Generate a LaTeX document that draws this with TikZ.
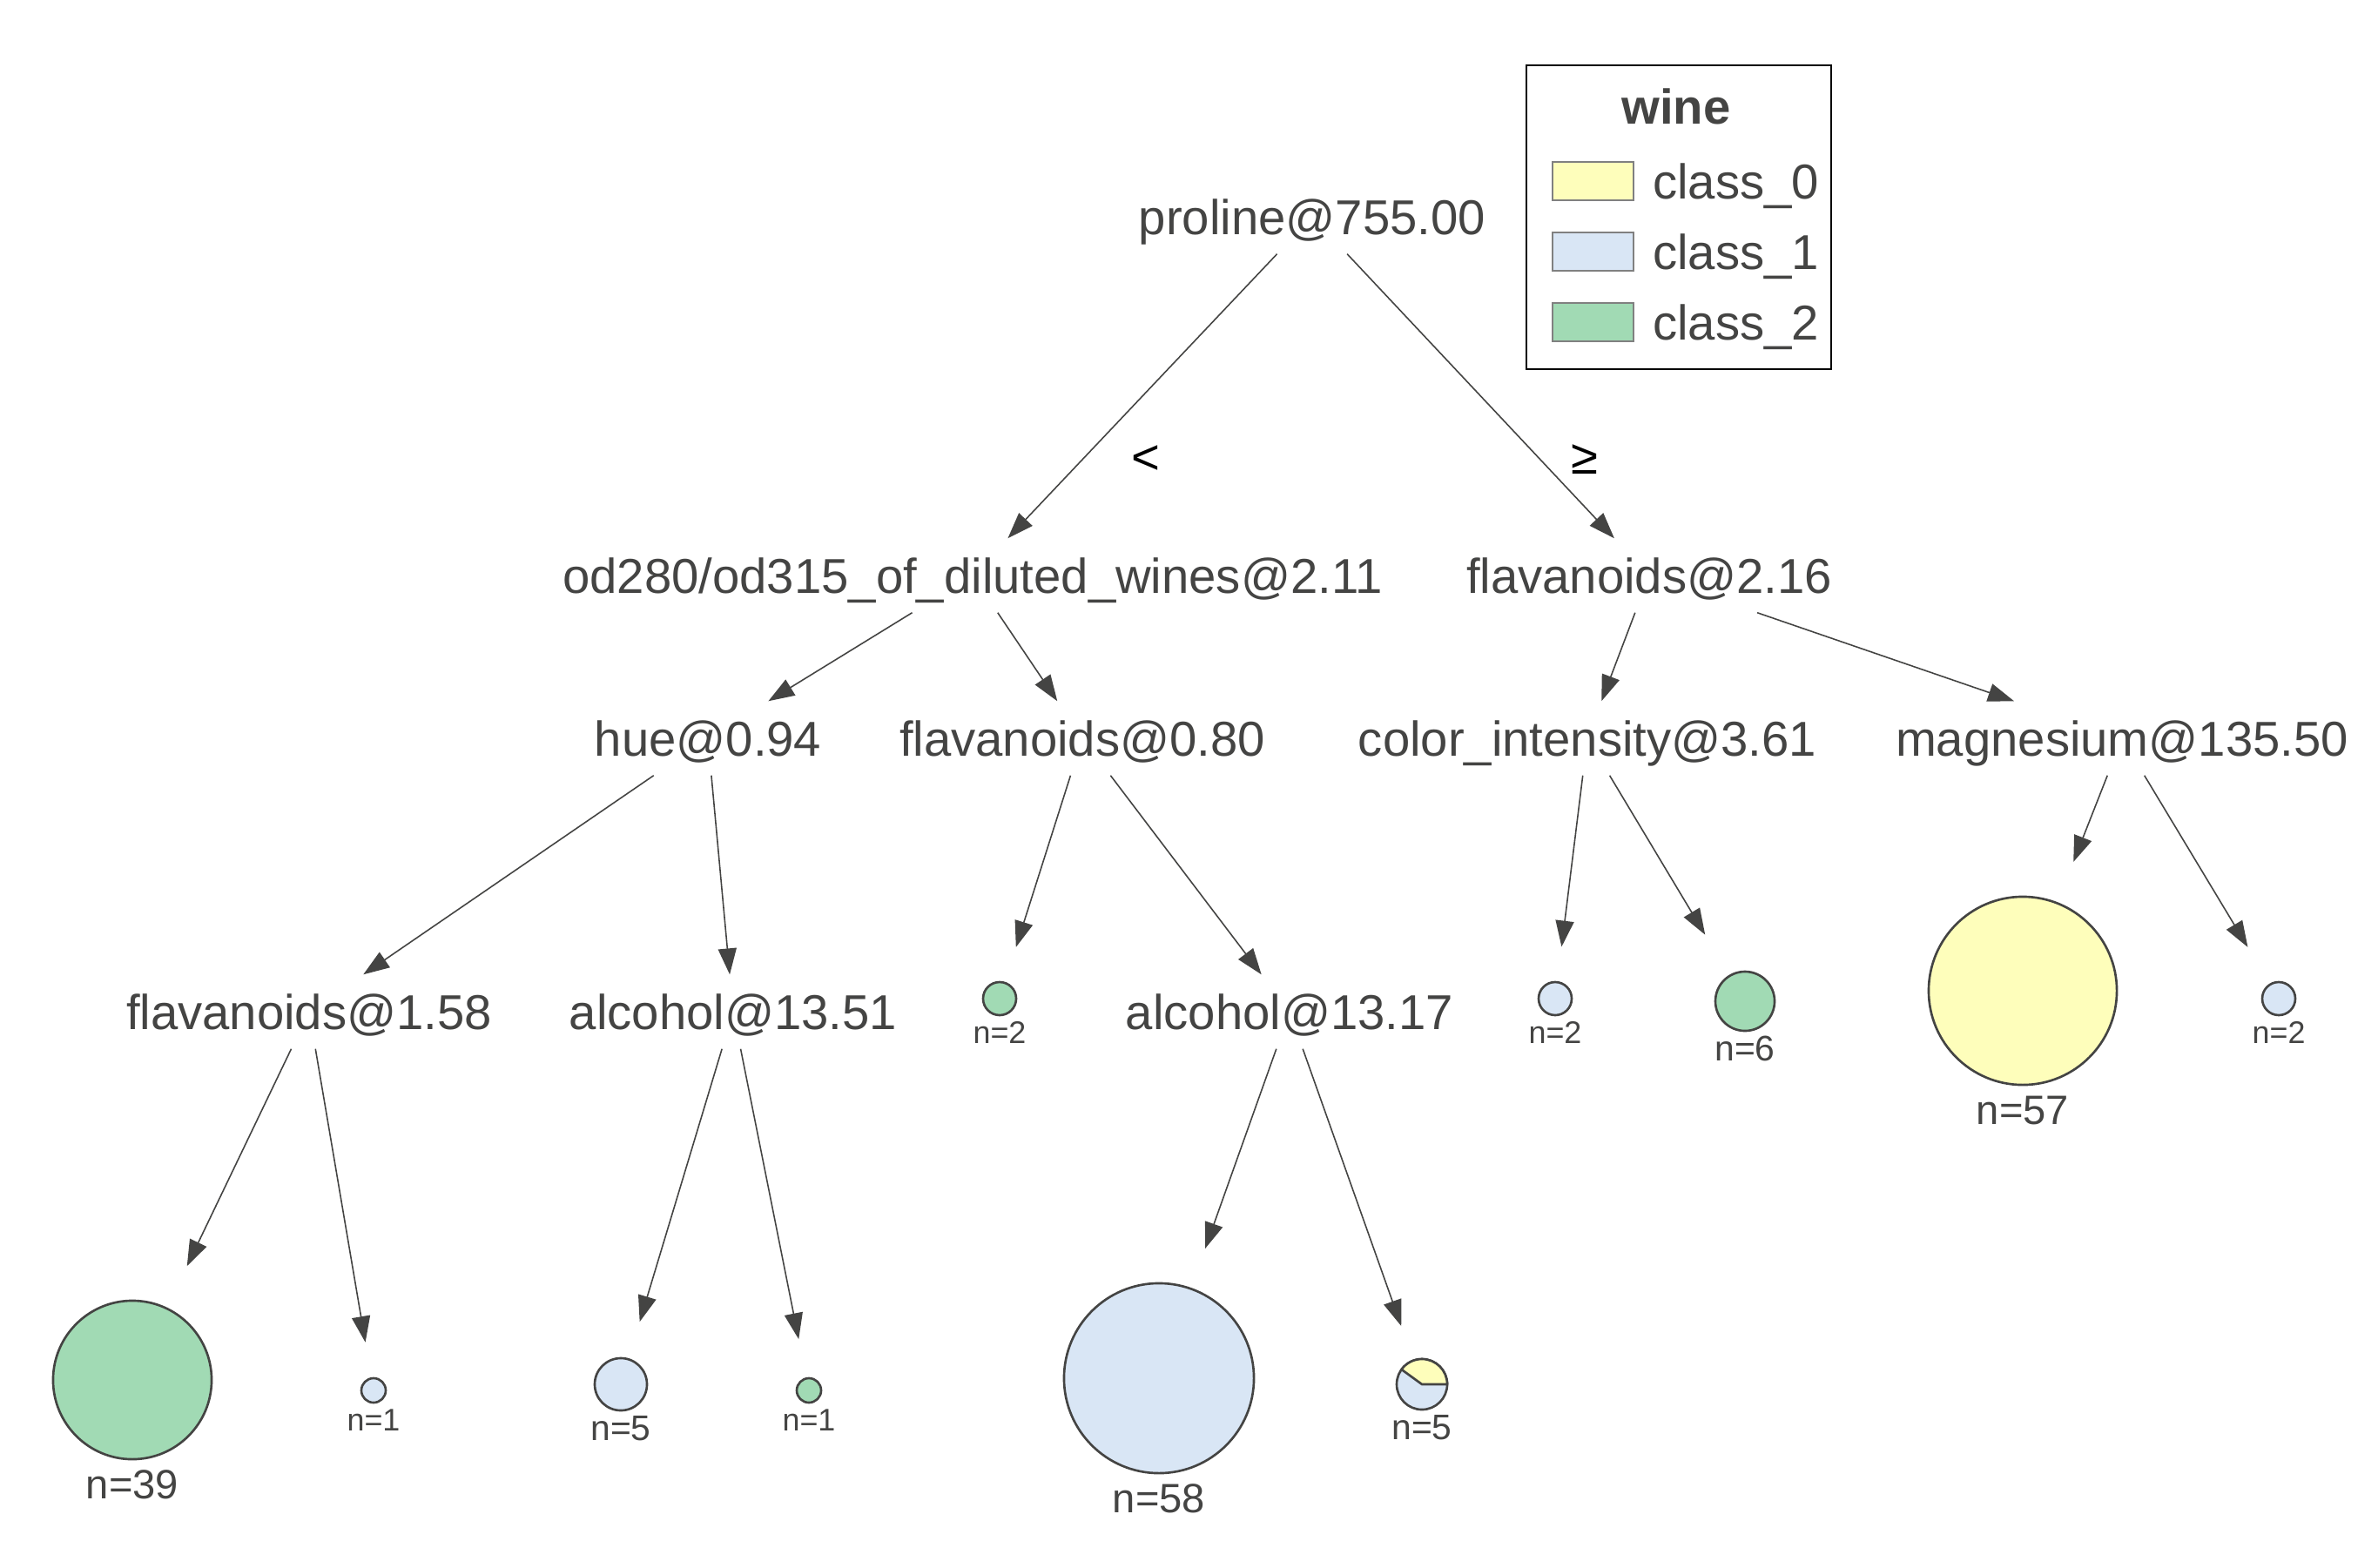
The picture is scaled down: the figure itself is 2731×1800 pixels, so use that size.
\documentclass[tikz,border=0pt]{standalone}
\usepackage{fontspec}
\setmainfont{Liberation Sans}
\usetikzlibrary{arrows.meta, positioning}

\definecolor{ink}{HTML}{444443}
\definecolor{cyellow}{HTML}{FEFEBB}
\definecolor{cblue}{HTML}{D9E6F5}
\definecolor{cgreen}{HTML}{A1DAB4}

\tikzset{
  split/.style={font=\fontsize{16}{19}\selectfont, text=ink, inner sep=0pt, text height=11.5pt, text depth=0pt, minimum height=0.84cm},
  edge/.style={draw=ink, line width=0.45pt, -{Triangle[length=8.5pt, width=6pt]}},
  leaf/.style={circle, draw=ink, line width=0.75pt, inner sep=0pt, outer sep=0pt, minimum size=#1},
  count/.style={text=ink, inner sep=0pt, text height=0.72em, text depth=0pt},
  nsmall/.style={count, font=\fontsize{10.2}{12}\selectfont, label distance=1.8pt},
  nmid/.style={count, font=\fontsize{11.6}{14}\selectfont, label distance=2.4pt},
  nbig/.style={count, font=\fontsize{13.4}{16}\selectfont, label distance=5.5pt},
  swatch/.style={draw=gray, line width=0.75pt, minimum width=0.93cm, minimum height=0.44cm, inner sep=0pt},
  legtext/.style={font=\fontsize{16}{19}\selectfont, text=ink, inner sep=0pt, text height=11.5pt, text depth=0pt}
}

\begin{document}
\begin{tikzpicture}[x=0.01cm, y=-0.01cm]
    \useasboundingbox (0,0) rectangle (2731,1800);

    % Split nodes
    \node[split] (ROOT) at (1507,249) {proline@755.00};
    \node[split] (OD) at (1117,661) {od280/od315\_of\_diluted\_wines@2.11};
    \node[split] (FL216) at (1894,661) {flavanoids@2.16};
    \node[split] (HUE) at (813,848) {hue@0.94};
    \node[split] (FL080) at (1243,848) {flavanoids@0.80};
    \node[split] (CI) at (1823,848) {color\_intensity@3.61};
    \node[split] (MG) at (2437,848) {magnesium@135.50};
    \node[split] (FL158) at (355,1162) {flavanoids@1.58};
    \node[split] (AL1351) at (842,1162) {alcohol@13.51};
    \node[split] (AL1317) at (1481,1162) {alcohol@13.17};

    % Leaves
    \node[leaf=0.38cm, fill=cgreen, label={[nsmall]below:n=2}] (L2a) at (1148,1147) {};
    \node[leaf=0.38cm, fill=cblue, label={[nsmall]below:n=2}] (L2b) at (1786,1147) {};
    \node[leaf=0.68cm, fill=cgreen, label={[nmid]below:n=6}] (L6) at (2004,1150) {};
    \node[leaf=2.16cm, fill=cyellow, label={[nbig]below:n=57}] (L57) at (2323,1138) {};
    \node[leaf=0.38cm, fill=cblue, label={[nsmall]below:n=2}] (L2c) at (2617,1147) {};
    \node[leaf=1.82cm, fill=cgreen, label={[nbig]below:n=39}] (L39) at (152,1585) {};
    \node[leaf=0.28cm, fill=cblue, label={[nsmall]below:n=1}] (L1a) at (429,1597) {};
    \node[leaf=0.60cm, fill=cblue, label={[nmid]below:n=5}] (L5a) at (713,1590) {};
    \node[leaf=0.28cm, fill=cgreen, label={[nsmall]below:n=1}] (L1b) at (929,1597) {};
    \node[leaf=2.18cm, fill=cblue, label={[nbig]below:n=58}] (L58) at (1331,1583) {};
    \node[leaf=0.58cm, fill=cblue, label={[nmid]below:n=5}] (L5b) at (1633,1590) {};
    \draw[draw=ink, line width=0.75pt, fill=cyellow, line join=round] (L5b.center) -- (L5b.east) arc[start angle=0, end angle=144, radius=0.29cm] -- cycle;

    % Edge labels
    \node[font=\fontsize{16}{19}\selectfont, inner sep=0pt] (LT) at (1316,528) {<};
    \node[font=\fontsize{16}{19}\selectfont, inner sep=0pt] (GE) at (1820,528) {≥};

    % Connections
    \draw[edge] (ROOT) -- (OD);
    \draw[edge] (ROOT) -- (FL216);
    \draw[edge] (OD) -- (HUE);
    \draw[edge] (OD) -- (FL080);
    \draw[edge] (FL216) -- (CI);
    \draw[edge] (FL216) -- (MG);
    \draw[edge] (HUE) -- (FL158);
    \draw[edge] (HUE) -- (AL1351);
    \draw[edge] (FL080) -- (AL1317);

    \draw[edge, shorten >=0.43cm] (FL080) -- (L2a);
    \draw[edge, shorten >=0.41cm] (CI) -- (L2b);
    \draw[edge, shorten >=0.55cm] (CI) -- (L6);
    \draw[edge, shorten >=0.51cm] (MG) -- (L57);
    \draw[edge, shorten >=0.50cm] (MG) -- (L2c);
    \draw[edge, shorten >=0.54cm] (FL158) -- (L39);
    \draw[edge, shorten >=0.42cm] (FL158) -- (L1a);
    \draw[edge, shorten >=0.45cm] (AL1351) -- (L5a);
    \draw[edge, shorten >=0.46cm] (AL1351) -- (L1b);
    \draw[edge, shorten >=0.49cm] (AL1317) -- (L58);
    \draw[edge, shorten >=0.42cm] (AL1317) -- (L5b);

    % Legend
    \node[draw=black, line width=0.55pt, minimum width=3.5cm, minimum height=3.49cm, inner sep=0pt] (LEG) at (1928,249.5) {};
    \node[legtext, font=\fontsize{16}{19}\selectfont\bfseries] (LEGT) at (1925,122) {wine};
    \foreach \col [count=\i from 0] in {cyellow,cblue,cgreen} {
        \node[swatch, fill=\col] (SW\i) at (1829.5,{208+81*\i}) {};
        \node[legtext, right=0.2cm of SW\i] (LB\i) {class\_\i};
    }
\end{tikzpicture}
\end{document}
